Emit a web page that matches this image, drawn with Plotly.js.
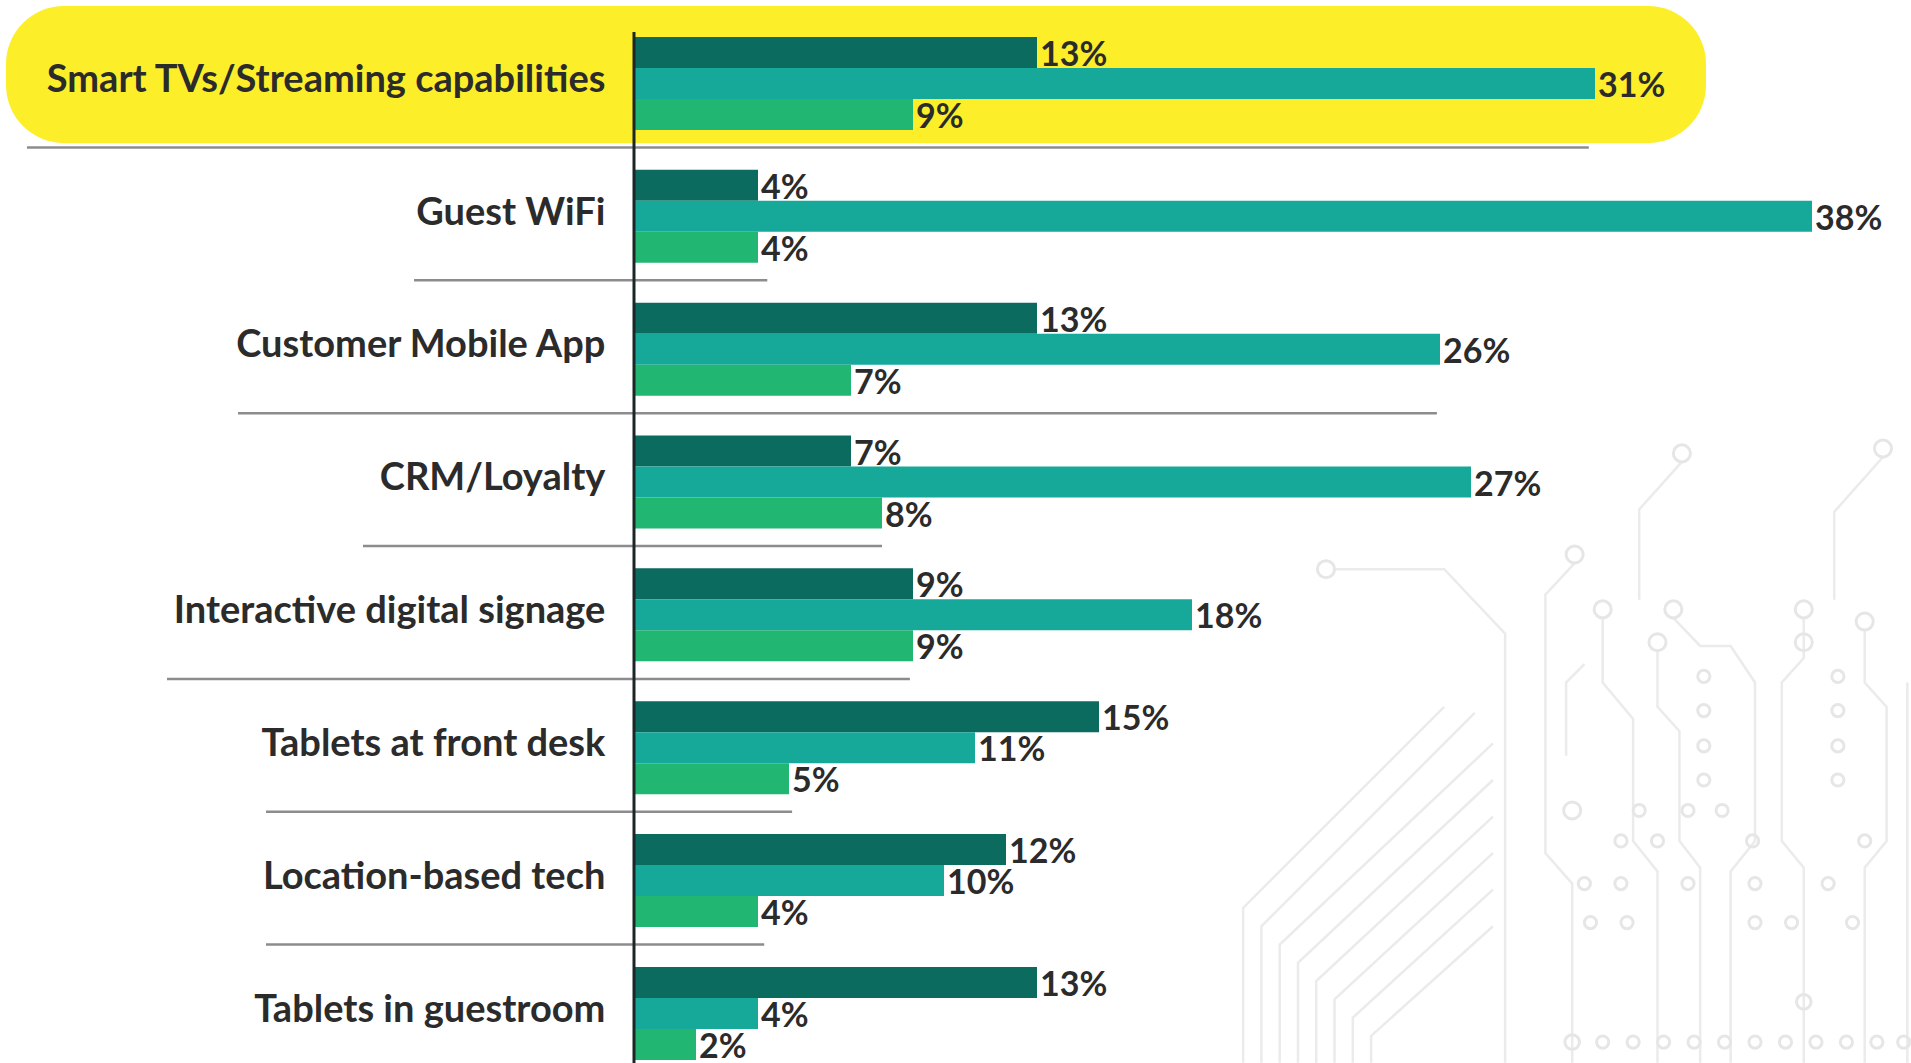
<!DOCTYPE html>
<html>
<head>
<meta charset="utf-8">
<script src="https://cdn.plot.ly/plotly-3.0.1.min.js"></script>
<style>
  html, body { margin: 0; padding: 0; background: #ffffff; }
  #chart { width: 1911px; height: 1063px; }
</style>
</head>
<body>
<div id="chart"></div>
<script>
// ---- data ----
const categories = [
  "Smart TVs/Streaming capabilities",
  "Guest WiFi",
  "Customer Mobile App",
  "CRM/Loyalty",
  "Interactive digital signage",
  "Tablets at front desk",
  "Location-based tech",
  "Tablets in guestroom"
];
const seriesDark  = [13, 4, 13, 7, 9, 15, 12, 13];
const seriesTeal  = [31, 38, 26, 27, 18, 11, 10, 4];
const seriesGreen = [9, 4, 7, 8, 9, 5, 4, 2];

// ---- decoration geometry (separators under each category) ----
const sepLeftPx   = [27, 414, 238, 363, 167, 266, 266];
const sepRightVal = [30.8, 4.3, 25.9, 8, 8.9, 5.1, 4.2];

// ---- layout geometry ----
const W = 1911, H = 1063;
const L = 634, T = 17;
const plotW = W - L, plotH = H - T;
const xMax = plotW / 31;          // ~31 px per percentage point
const yTop = -0.5, yBottom = 7.373;

const colors = { dark: "#0b6b5f", teal: "#16a99a", green: "#22b673" };
const textColor = "#2b2b2b";
const valueFont = { family: "Lato, 'DejaVu Sans', sans-serif", size: 34, color: textColor, weight: 700 };

function barTrace(vals, color, name) {
  return {
    type: "bar",
    orientation: "h",
    name: name,
    y: categories,
    x: vals,
    marker: { color: color, line: { width: 0 } },
    texttemplate: "%{x}%",
    textposition: "outside",
    constraintext: "none",
    cliponaxis: false,
    textfont: valueFont,
    hoverinfo: "skip"
  };
}

const data = [
  barTrace(seriesDark, colors.dark, "A"),
  barTrace(seriesTeal, colors.teal, "B"),
  barTrace(seriesGreen, colors.green, "C")
];

function pxToPaperX(px) { return (px - L) / plotW; }
function pxToPaperY(py) { return 1 - (py - T) / plotH; }
function catToPaperY(c) { return 1 - (c - yTop) / (yBottom - yTop); }

const shapes = [];

// ---- faint circuit-board decoration (background art, lower right) ----
const S = W / 1568; // decoration sketched in reduced coordinates
const deco = "#ebebeb";
const circuitLines = [
  [[1095,467],[1185,467],[1235,520],[1235,872]],
  [[1292,462],[1268,488],[1268,700],[1290,725],[1290,872]],
  [[1380,379],[1345,418],[1345,492]],
  [[1545,375],[1505,420],[1505,492]],
  [[1315,507],[1315,560],[1340,590],[1340,690],[1360,715],[1360,872]],
  [[1373,507],[1395,530],[1420,530],[1440,560],[1440,690],[1420,715],[1420,872]],
  [[1360,534],[1360,580],[1378,600],[1378,690],[1395,712],[1395,872]],
  [[1480,507],[1480,540],[1462,560],[1462,690],[1480,712],[1480,872]],
  [[1530,517],[1530,560],[1548,580],[1548,690],[1530,712],[1530,872]],
  [[1020,872],[1020,745],[1185,580]],
  [[1035,872],[1035,760],[1210,585]],
  [[1050,872],[1050,775],[1225,610]],
  [[1065,872],[1065,790],[1225,640]],
  [[1080,872],[1080,805],[1225,670]],
  [[1095,872],[1095,820],[1225,700]],
  [[1110,872],[1110,835],[1225,730]],
  [[1125,872],[1125,850],[1225,760]],
  [[1285,620],[1285,560],[1300,545]],
  [[1565,560],[1565,872]]
];
const circuitDots = [
  [1088,467,7],[1292,455,7],[1380,372,7],[1545,368,7],
  [1315,500,7],[1373,500,7],[1360,527,7],[1480,500,7],[1480,527,7],[1530,510,7],
  [1398,555,5],[1398,583,5],[1398,612,5],[1398,640,5],
  [1508,555,5],[1508,583,5],[1508,612,5],[1508,640,5],
  [1290,665,7],[1345,665,5],[1385,665,5],[1413,665,5],
  [1330,690,5],[1360,690,5],[1438,690,5],[1530,690,5],
  [1300,725,5],[1330,725,5],[1385,725,5],[1440,725,5],[1500,725,5],
  [1305,757,5],[1335,757,5],[1440,757,5],[1470,757,5],[1520,757,5],
  [1480,822,6],
  [1290,855,6],[1315,855,5],[1340,855,5],[1365,855,5],[1390,855,5],[1415,855,5],
  [1440,855,5],[1465,855,5],[1490,855,5],[1515,855,5],[1540,855,5],[1562,855,5]
];
circuitLines.forEach(pts => {
  const p = pts.map((q, i) => (i ? "L " : "M ") + pxToPaperX(q[0] * S) + "," + pxToPaperY(q[1] * S)).join(" ");
  shapes.push({ type: "path", xref: "paper", yref: "paper", path: p,
    line: { color: deco, width: 2.5 }, layer: "below" });
});
circuitDots.forEach(d => {
  const cx = d[0] * S, cy = d[1] * S, r = d[2] * S;
  shapes.push({ type: "circle", xref: "paper", yref: "paper",
    x0: pxToPaperX(cx - r), x1: pxToPaperX(cx + r),
    y0: pxToPaperY(cy + r), y1: pxToPaperY(cy - r),
    line: { color: "#e6e6e6", width: 3 }, fillcolor: "rgba(0,0,0,0)", layer: "below" });
});

// yellow highlight pill (behind first category)
(function () {
  const cx = 856, cy = 74.5, hw = 850, hh = 68.5, r = 58, k = 0.5523 * r;
  const p = [
    `M ${-hw + r},${-hh}`,
    `L ${hw - r},${-hh}`,
    `C ${hw - r + k},${-hh} ${hw},${-hh + r - k} ${hw},${-hh + r}`,
    `L ${hw},${hh - r}`,
    `C ${hw},${hh - r + k} ${hw - r + k},${hh} ${hw - r},${hh}`,
    `L ${-hw + r},${hh}`,
    `C ${-hw + r - k},${hh} ${-hw},${hh - r + k} ${-hw},${hh - r}`,
    `L ${-hw},${-hh + r}`,
    `C ${-hw},${-hh + r - k} ${-hw + r - k},${-hh} ${-hw + r},${-hh}`,
    "Z"
  ].join(" ");
  shapes.push({
    type: "path",
    xref: "paper", yref: "paper",
    xsizemode: "pixel", ysizemode: "pixel",
    xanchor: pxToPaperX(cx), yanchor: pxToPaperY(cy),
    path: p,
    fillcolor: "#fdee2a",
    line: { width: 0 },
    layer: "below"
  });
})();

// separators
for (let i = 0; i < sepLeftPx.length; i++) {
  const yy = catToPaperY(i + 0.482);
  shapes.push({
    type: "line", xref: "paper", yref: "paper",
    x0: pxToPaperX(sepLeftPx[i]), x1: sepRightVal[i] / xMax,
    y0: yy, y1: yy,
    line: { color: "#8c8c8c", width: 2.5 },
    layer: "below"
  });
}

// vertical axis line
shapes.push({
  type: "line", xref: "paper", yref: "paper",
  x0: 0, x1: 0, y0: 0, y1: pxToPaperY(32),
  line: { color: "#1d2626", width: 3 },
  layer: "above"
});

const layout = {
  width: W, height: H,
  margin: { l: L, r: 0, t: T, b: 0, pad: 0 },
  paper_bgcolor: "#ffffff",
  plot_bgcolor: "rgba(0,0,0,0)",
  barmode: "group",
  bargap: 0.3,
  bargroupgap: 0,
  showlegend: false,
  xaxis: {
    range: [0, xMax],
    visible: false,
    fixedrange: true
  },
  yaxis: {
    type: "category",
    range: [yBottom, yTop],
    showgrid: false,
    zeroline: false,
    showline: false,
    ticks: "outside",
    ticklen: 20,
    tickcolor: "rgba(0,0,0,0)",
    ticklabelshift: 5,
    tickfont: { family: "Lato, 'DejaVu Sans', sans-serif", size: 38, color: textColor, weight: 700 },
    automargin: false,
    fixedrange: true
  },
  shapes: shapes
};

Plotly.newPlot("chart", data, layout, { displayModeBar: false, staticPlot: true });
</script>
</body>
</html>
